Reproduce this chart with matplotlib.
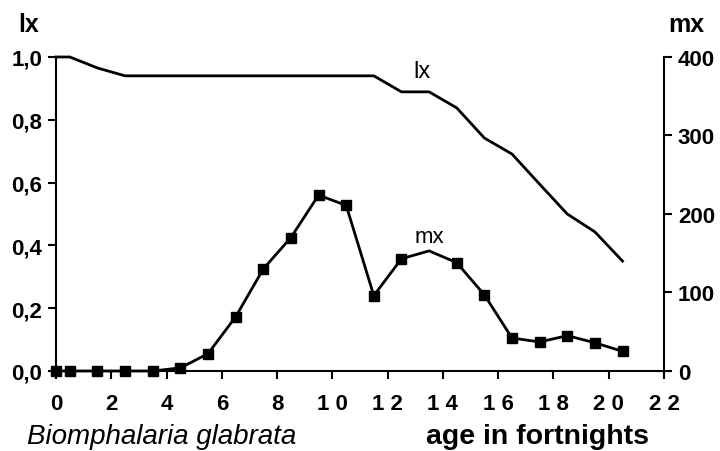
import numpy as np
import matplotlib
matplotlib.use("Agg")
import matplotlib.pyplot as plt

plt.rcParams['font.family'] = ['Liberation Sans', 'DejaVu Sans']

# age in fortnights
age = [0, 0.5, 1.5, 2.5, 3.5, 4.5, 5.5, 6.5, 7.5, 8.5, 9.5, 10.5,
       11.5, 12.5, 13.5, 14.5, 15.5, 16.5, 17.5, 18.5, 19.5, 20.5]
# survivorship lx
lx = [1.0, 1.0, 0.965, 0.94, 0.94, 0.94, 0.94, 0.94, 0.94, 0.94, 0.94, 0.94,
      0.94, 0.889, 0.889, 0.838, 0.742, 0.691, 0.595, 0.50, 0.443, 0.35]
# fecundity mx
mx = [0, 0, 0, 0, 0, 4, 22, 69, 130, 170, 224, 211,
      96, 143, 153, 138, 97, 42, 37, 45, 36, 25]

xticks = [0, 2, 4, 6, 8, 10, 12, 14, 16, 18, 20, 22]
xticklabels = ['0', '2', '4', '6', '8', '1 0', '1 2', '1 4', '1 6', '1 8', '2 0', '2 2']
lticks = [0, 0.2, 0.4, 0.6, 0.8, 1.0]
lticklabels = ['0,0', '0,2', '0,4', '0,6', '0,8', '1,0']
rticks = [0, 100, 200, 300, 400]

fig = plt.figure(figsize=(7.2, 4.52), dpi=100)
ax = fig.add_axes([0.0778, 0.177, 0.8444, 0.6947])
ax2 = ax.twinx()

ax.plot(age, lx, color='black', lw=2, clip_on=False, zorder=3)
mark = [i for i in range(len(age)) if age[i] != 13.5]
ax2.plot(age, mx, color='black', lw=2, marker='s', ms=6.5,
         markevery=mark, clip_on=False, zorder=3)

ax.set_xlim(0, 22)
ax.set_ylim(0, 1.0)
ax2.set_ylim(0, 400)

ax.set_xticks(xticks)
ax.set_xticklabels(xticklabels)
ax.set_yticks(lticks)
ax.set_yticklabels(lticklabels)
ax2.set_yticks(rticks)

for a in (ax, ax2):
    a.spines['top'].set_visible(False)
    for s in a.spines.values():
        s.set_linewidth(1.5)
    a.tick_params(direction='out', length=6, width=1.5, labelsize=16, pad=4)
    for lab in a.get_xticklabels() + a.get_yticklabels():
        lab.set_fontweight('bold')
ax.tick_params(axis='x', pad=10)
ax.spines['right'].set_visible(False)
ax2.spines['left'].set_visible(False)
ax2.spines['bottom'].set_visible(False)

fig.text(0.025, 0.945, 'lx', fontsize=18, fontweight='bold', va='center', ha='left')
fig.text(0.928, 0.945, 'mx', fontsize=18, fontweight='bold', va='center', ha='left')
ax.text(13.25, 0.955, 'lx', fontsize=17, ha='center', va='center')
ax2.text(13.5, 171, 'mx', fontsize=16, ha='center', va='center')

fig.text(0.037, 0.033, 'Biomphalaria glabrata', fontsize=20, style='italic',
         ha='left', va='center')
fig.text(0.592, 0.033, 'age in fortnights', fontsize=20.5, fontweight='bold',
         ha='left', va='center')

fig.savefig('out.png', dpi=100)
